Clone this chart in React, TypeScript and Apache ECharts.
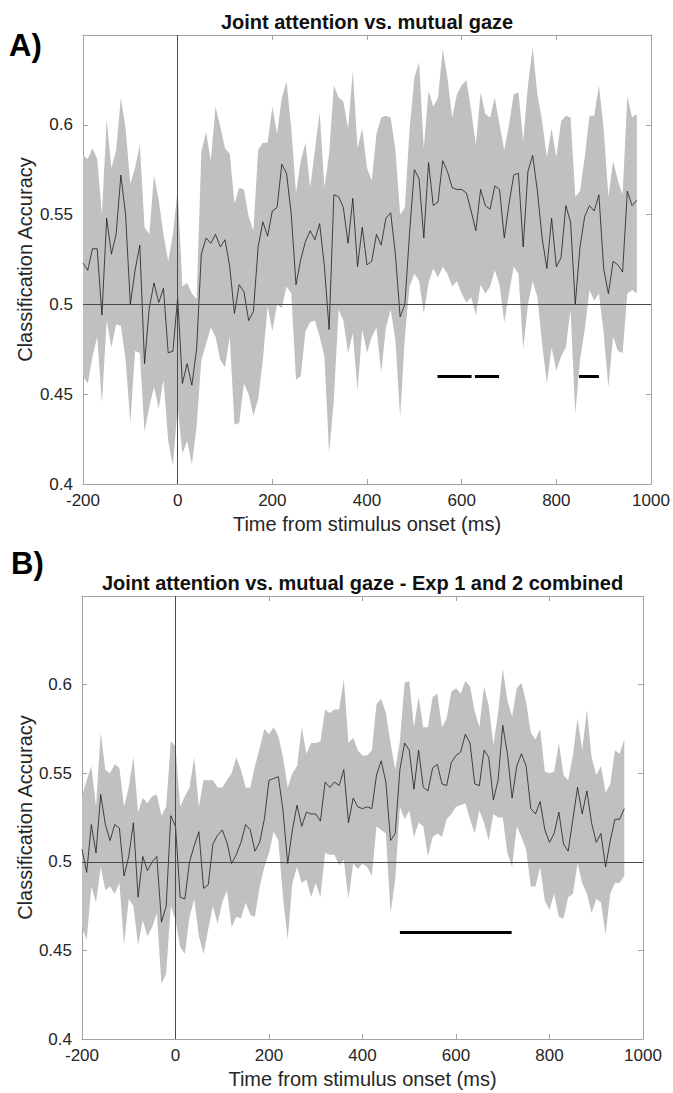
import React, { useEffect, useRef } from "react";
import * as echarts from "echarts";

// ---- data (classification accuracy, sampled every 10 ms from -200 ms) ----
const START_MS = -200;
const STEP_MS = 10;

const TITLE_A = "Joint attention vs. mutual gaze";
const TITLE_B = "Joint attention vs. mutual gaze - Exp 1 and 2 combined";
const X_NAME = "Time from stimulus onset (ms)";
const Y_NAME = "Classification Accuracy";
const TAG_A = "A)";
const TAG_B = "B)";

const UPPER_A = [
  0.583, 0.581, 0.587, 0.581, 0.550, 0.603, 0.576, 0.586, 0.615, 0.598,
  0.567, 0.576, 0.589, 0.543, 0.539, 0.572, 0.558, 0.539, 0.524, 0.539,
  0.564, 0.510, 0.512, 0.506, 0.503, 0.585, 0.596, 0.580, 0.610, 0.599,
  0.587, 0.584, 0.556, 0.565, 0.564, 0.549, 0.541, 0.586, 0.590, 0.590,
  0.610, 0.595, 0.615, 0.624, 0.598, 0.562, 0.580, 0.590, 0.565, 0.586,
  0.607, 0.565, 0.584, 0.622, 0.615, 0.613, 0.598, 0.630, 0.587, 0.598,
  0.576, 0.569, 0.595, 0.604, 0.605, 0.604, 0.586, 0.550, 0.554, 0.598,
  0.626, 0.635, 0.587, 0.619, 0.610, 0.615, 0.642, 0.626, 0.604, 0.617,
  0.622, 0.625, 0.608, 0.589, 0.618, 0.606, 0.604, 0.615, 0.600, 0.586,
  0.600, 0.617, 0.618, 0.591, 0.622, 0.643, 0.617, 0.602, 0.582, 0.598,
  0.582, 0.602, 0.605, 0.604, 0.560, 0.563, 0.582, 0.605, 0.605, 0.622,
  0.598, 0.560, 0.580, 0.569, 0.561, 0.616, 0.604, 0.606,
];
const MEAN_A = [
  0.523, 0.519, 0.531, 0.531, 0.494, 0.548, 0.528, 0.539, 0.572, 0.550,
  0.500, 0.519, 0.533, 0.467, 0.498, 0.512, 0.501, 0.509, 0.473, 0.474,
  0.504, 0.456, 0.467, 0.455, 0.475, 0.528, 0.537, 0.534, 0.539, 0.532,
  0.536, 0.521, 0.495, 0.511, 0.507, 0.491, 0.496, 0.532, 0.546, 0.538,
  0.552, 0.554, 0.578, 0.573, 0.550, 0.511, 0.525, 0.535, 0.541, 0.536,
  0.545, 0.521, 0.486, 0.561, 0.560, 0.554, 0.534, 0.559, 0.521, 0.543,
  0.522, 0.524, 0.539, 0.533, 0.548, 0.551, 0.528, 0.493, 0.500, 0.540,
  0.575, 0.570, 0.537, 0.579, 0.555, 0.557, 0.580, 0.574, 0.565, 0.564,
  0.564, 0.562, 0.552, 0.541, 0.564, 0.555, 0.553, 0.566, 0.564, 0.537,
  0.556, 0.572, 0.573, 0.532, 0.574, 0.583, 0.563, 0.537, 0.520, 0.548,
  0.521, 0.526, 0.555, 0.546, 0.500, 0.532, 0.549, 0.555, 0.552, 0.561,
  0.520, 0.506, 0.524, 0.522, 0.518, 0.563, 0.555, 0.558,
];
const LOWER_A = [
  0.460, 0.456, 0.471, 0.482, 0.445, 0.491, 0.476, 0.489, 0.488, 0.469,
  0.434, 0.474, 0.473, 0.429, 0.443, 0.454, 0.442, 0.458, 0.424, 0.410,
  0.443, 0.417, 0.424, 0.411, 0.432, 0.469, 0.478, 0.487, 0.482, 0.469,
  0.465, 0.482, 0.433, 0.434, 0.456, 0.450, 0.438, 0.447, 0.469, 0.499,
  0.485, 0.500, 0.498, 0.510, 0.506, 0.458, 0.460, 0.485, 0.490, 0.491,
  0.482, 0.471, 0.417, 0.447, 0.497, 0.491, 0.473, 0.484, 0.452, 0.486,
  0.473, 0.482, 0.487, 0.462, 0.487, 0.497, 0.480, 0.437, 0.482, 0.510,
  0.517, 0.513, 0.495, 0.512, 0.520, 0.515, 0.521, 0.517, 0.510, 0.513,
  0.506, 0.501, 0.504, 0.494, 0.511, 0.506, 0.510, 0.519, 0.511, 0.490,
  0.506, 0.521, 0.517, 0.475, 0.500, 0.513, 0.504, 0.478, 0.456, 0.476,
  0.463, 0.471, 0.476, 0.497, 0.439, 0.469, 0.486, 0.508, 0.502, 0.506,
  0.484, 0.454, 0.482, 0.474, 0.473, 0.506, 0.508, 0.506,
];

const UPPER_B = [
  0.537, 0.546, 0.554, 0.531, 0.573, 0.552, 0.550, 0.555, 0.553, 0.531,
  0.542, 0.559, 0.528, 0.536, 0.533, 0.537, 0.538, 0.526, 0.531, 0.568,
  0.565, 0.531, 0.537, 0.542, 0.559, 0.531, 0.546, 0.546, 0.546, 0.542,
  0.542, 0.546, 0.550, 0.559, 0.552, 0.542, 0.542, 0.554, 0.564, 0.575,
  0.572, 0.576, 0.571, 0.559, 0.542, 0.550, 0.554, 0.576, 0.561, 0.567,
  0.567, 0.568, 0.586, 0.584, 0.586, 0.586, 0.603, 0.567, 0.570, 0.563,
  0.560, 0.560, 0.563, 0.589, 0.592, 0.584, 0.567, 0.552, 0.568, 0.601,
  0.602, 0.576, 0.593, 0.576, 0.576, 0.593, 0.595, 0.576, 0.581, 0.596,
  0.598, 0.595, 0.602, 0.599, 0.585, 0.576, 0.599, 0.588, 0.566, 0.584,
  0.609, 0.591, 0.582, 0.598, 0.601, 0.590, 0.573, 0.569, 0.575, 0.551,
  0.550, 0.551, 0.567, 0.549, 0.546, 0.560, 0.581, 0.563, 0.586, 0.559,
  0.549, 0.554, 0.539, 0.544, 0.563, 0.561, 0.569,
];
const MEAN_B = [
  0.507, 0.494, 0.521, 0.505, 0.538, 0.521, 0.512, 0.521, 0.519, 0.492,
  0.503, 0.522, 0.480, 0.503, 0.495, 0.500, 0.503, 0.466, 0.475, 0.526,
  0.520, 0.480, 0.479, 0.500, 0.509, 0.517, 0.485, 0.487, 0.510, 0.515,
  0.518, 0.511, 0.499, 0.504, 0.511, 0.521, 0.518, 0.506, 0.511, 0.524,
  0.546, 0.547, 0.548, 0.529, 0.499, 0.518, 0.532, 0.520, 0.528, 0.527,
  0.527, 0.523, 0.545, 0.542, 0.545, 0.543, 0.552, 0.522, 0.536, 0.531,
  0.530, 0.531, 0.530, 0.549, 0.557, 0.545, 0.512, 0.516, 0.552, 0.567,
  0.563, 0.541, 0.563, 0.542, 0.540, 0.553, 0.555, 0.544, 0.543, 0.556,
  0.560, 0.562, 0.572, 0.567, 0.544, 0.543, 0.563, 0.559, 0.535, 0.546,
  0.577, 0.561, 0.536, 0.554, 0.561, 0.554, 0.530, 0.527, 0.534, 0.518,
  0.511, 0.516, 0.528, 0.510, 0.506, 0.524, 0.542, 0.527, 0.540, 0.522,
  0.511, 0.516, 0.497, 0.512, 0.524, 0.524, 0.530,
];
const LOWER_B = [
  0.463, 0.456, 0.486, 0.477, 0.497, 0.484, 0.486, 0.482, 0.488, 0.453,
  0.479, 0.475, 0.453, 0.467, 0.458, 0.463, 0.471, 0.431, 0.437, 0.475,
  0.467, 0.452, 0.448, 0.469, 0.479, 0.458, 0.448, 0.462, 0.475, 0.465,
  0.477, 0.484, 0.463, 0.469, 0.468, 0.477, 0.470, 0.469, 0.486, 0.497,
  0.505, 0.517, 0.512, 0.480, 0.456, 0.488, 0.497, 0.488, 0.490, 0.480,
  0.488, 0.480, 0.505, 0.504, 0.504, 0.498, 0.501, 0.479, 0.499, 0.496,
  0.499, 0.497, 0.492, 0.520, 0.518, 0.516, 0.471, 0.490, 0.531, 0.524,
  0.529, 0.514, 0.522, 0.520, 0.503, 0.514, 0.516, 0.514, 0.524, 0.527,
  0.531, 0.532, 0.533, 0.524, 0.516, 0.529, 0.522, 0.512, 0.527, 0.525,
  0.525, 0.505, 0.497, 0.520, 0.514, 0.507, 0.486, 0.486, 0.497, 0.478,
  0.473, 0.482, 0.469, 0.468, 0.480, 0.482, 0.499, 0.488, 0.482, 0.471,
  0.479, 0.477, 0.459, 0.482, 0.488, 0.488, 0.492,
];

// significant clusters (ms) and the level they are drawn at
const SIG_A = [[549, 621], [628, 679], [848, 890]];
const SIG_B = [[480, 719]];
const SIG_LEVEL = 0.46;
const CHANCE = 0.5;

const X_MIN = -200, X_MAX = 1000, X_STEP = 200;
const Y_MIN = 0.4, Y_MAX = 0.65, Y_STEP = 0.05;

// ---- styling ----
const FONT = '"Liberation Sans", Arial, Helvetica, sans-serif';
const BOX = "#a3a3a3";
const TXT = "#262626";
const BAND = "#c0c0c0";

function timesFor(n: number) {
  const t: number[] = [];
  for (let i = 0; i < n; i++) t.push(START_MS + i * STEP_MS);
  return t;
}

export default function App() {
  const ref = useRef<HTMLDivElement>(null);

  useEffect(() => {
    if (!ref.current) return;
    const chart = echarts.init(ref.current, undefined, { renderer: "svg" });

    const panels = [
      {
        title: TITLE_A, tag: TAG_A, upper: UPPER_A, mean: MEAN_A, lower: LOWER_A, sig: SIG_A,
        grid: { left: 83, top: 35, width: 568, height: 449 }, titleY: 22, tagX: 9, tagY: 45,
      },
      {
        title: TITLE_B, tag: TAG_B, upper: UPPER_B, mean: MEAN_B, lower: LOWER_B, sig: SIG_B,
        grid: { left: 82, top: 596, width: 561, height: 443 }, titleY: 583, tagX: 11, tagY: 563,
      },
    ];

    const grids: any[] = [];
    const xAxes: any[] = [];
    const yAxes: any[] = [];
    const series: any[] = [];
    const graphic: any[] = [];

    panels.forEach((p, gi) => {
      const times = timesFor(p.mean.length);
      grids.push({ ...p.grid, containLabel: false });
      const xBase = {
        gridIndex: gi, type: "value", min: X_MIN, max: X_MAX, interval: X_STEP,
        splitLine: { show: false },
        axisLine: { show: true, onZero: false, lineStyle: { color: BOX, width: 1 } },
        axisTick: { show: true, inside: true, length: 5, lineStyle: { color: BOX } },
      };
      xAxes.push({
        ...xBase, position: "bottom",
        axisLabel: { color: TXT, fontSize: 17, fontFamily: FONT, margin: 8, formatter: (v: number) => String(v) },
        name: X_NAME, nameLocation: "middle", nameGap: 30,
        nameTextStyle: { color: TXT, fontSize: 20, fontFamily: FONT },
      });
      xAxes.push({ ...xBase, position: "top", axisLabel: { show: false } });
      const yBase = {
        gridIndex: gi, type: "value", min: Y_MIN, max: Y_MAX, interval: Y_STEP,
        splitLine: { show: false },
        axisLine: { show: true, onZero: false, lineStyle: { color: BOX, width: 1 } },
        axisTick: { show: true, inside: true, length: 5, lineStyle: { color: BOX } },
      };
      yAxes.push({
        ...yBase, position: "left",
        axisLabel: {
          color: TXT, fontSize: 17, fontFamily: FONT, margin: 10,
          formatter: (v: number) => (v > Y_MAX - 0.005 ? "" : String(Math.round(v * 100) / 100)),
        },
      });
      yAxes.push({ ...yBase, position: "right", axisLabel: { show: false } });

      const xi = gi * 2;
      const upper = p.upper, lower = p.lower;
      series.push({
        type: "custom", xAxisIndex: xi, yAxisIndex: xi, silent: true, z: 1,
        data: [[times[0], lower[0]]],
        renderItem: (_params: any, api: any) => {
          const pts: number[][] = [];
          for (let i = 0; i < times.length; i++) pts.push(api.coord([times[i], upper[i]]));
          for (let i = times.length - 1; i >= 0; i--) pts.push(api.coord([times[i], lower[i]]));
          return { type: "polygon", shape: { points: pts }, style: { fill: BAND, stroke: null } };
        },
      });
      series.push({
        type: "line", xAxisIndex: xi, yAxisIndex: xi, z: 3, silent: true,
        symbol: "none", showSymbol: false,
        data: times.map((t, i) => [t, p.mean[i]]),
        lineStyle: { color: "#1e1e1e", width: 0.8 },
        markLine: {
          silent: true, symbol: ["none", "none"], label: { show: false },
          lineStyle: { color: "#4a4a4a", width: 1, type: "solid" },
          emphasis: { disabled: true },
          data: [
            { xAxis: 0 },
            { yAxis: CHANCE },
            ...p.sig.map(([a, b]) => [
              { coord: [a, SIG_LEVEL], lineStyle: { color: "#000", width: 3, type: "solid" } },
              { coord: [b, SIG_LEVEL] },
            ]),
          ],
        },
      });

      graphic.push({
        type: "text", x: p.grid.left + p.grid.width / 2, y: p.titleY, silent: true,
        style: {
          text: p.title, fill: "#111", font: `bold 20px ${FONT}`,
          textAlign: "center", align: "center", textVerticalAlign: "middle", verticalAlign: "middle",
        },
      });
      graphic.push({
        type: "text", x: p.tagX, y: p.tagY, silent: true,
        style: {
          text: p.tag, fill: "#000", font: `bold 31px ${FONT}`,
          textAlign: "left", align: "left", textVerticalAlign: "middle", verticalAlign: "middle",
        },
      });
      graphic.push({
        type: "text", x: 25, y: p.grid.top + p.grid.height / 2, rotation: Math.PI / 2, silent: true,
        style: {
          text: Y_NAME, fill: TXT, font: `20px ${FONT}`,
          textAlign: "center", align: "center", textVerticalAlign: "middle", verticalAlign: "middle",
        },
      });
    });

    chart.setOption({
      animation: false,
      backgroundColor: "#fff",
      grid: grids,
      xAxis: xAxes,
      yAxis: yAxes,
      series,
      graphic,
    });

    return () => chart.dispose();
  }, []);

  return (
    <div
      ref={ref}
      style={{ position: "absolute", left: 0, top: 0, width: 673, height: 1093, background: "#fff" }}
    />
  );
}
